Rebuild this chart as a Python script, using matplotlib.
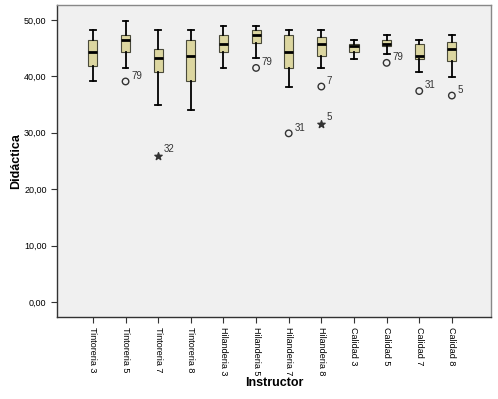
import matplotlib
matplotlib.use("Agg")
import matplotlib.pyplot as plt

plt.rcParams['font.family'] = ['Liberation Sans', 'DejaVu Sans']

categories = ["Tintoreria 3", "Tintoreria 5", "Tintoreria 7", "Tintoreria 8",
              "Hilanderia 3", "Hilanderia 5", "Hilanderia 7", "Hilanderia 8",
              "Calidad 3", "Calidad 5", "Calidad 7", "Calidad 8"]
whisker_low = [39.1, 41.5, 34.9, 34.0, 41.5, 43.2, 38.2, 41.5, 43.1, 44.0, 40.7, 39.9]
q1 =          [41.9, 44.4, 40.7, 39.1, 44.4, 46.0, 41.5, 43.6, 44.4, 45.3, 43.1, 42.7]
median =      [44.4, 46.5, 43.2, 43.6, 45.7, 47.4, 44.4, 45.7, 45.3, 45.7, 43.6, 44.9]
q3 =          [46.5, 47.4, 44.8, 46.5, 47.3, 48.2, 47.3, 46.9, 45.7, 46.5, 45.7, 46.1]
whisker_high = [48.2, 49.9, 48.2, 48.2, 49.0, 49.0, 48.2, 48.2, 46.5, 47.4, 46.5, 47.4]

# outliers: (category index, value, case label)
outlier_cat = [1, 5, 6, 7, 9, 10, 11]
outlier_val = [39.1, 41.5, 29.9, 38.2, 42.4, 37.4, 36.6]
outlier_lbl = ["79", "79", "31", "7", "79", "31", "5"]
# extremes (stars)
extreme_cat = [2, 7]
extreme_val = [25.8, 31.6]
extreme_lbl = ["32", "5"]

yticks = [0, 10, 20, 30, 40, 50]
ytick_labels = ["0,00", "10,00", "20,00", "30,00", "40,00", "50,00"]

fig = plt.figure(figsize=(4.98, 3.99), dpi=100)
ax = fig.add_axes([0.1145, 0.2055, 0.8715, 0.782])
ax.set_facecolor("#F0F0F0")

stats = []
for i in range(len(categories)):
    stats.append(dict(label=categories[i], whislo=whisker_low[i], q1=q1[i],
                      med=median[i], q3=q3[i], whishi=whisker_high[i], fliers=[]))
pos = list(range(len(categories)))
ax.bxp(stats, positions=pos, widths=0.28, patch_artist=True, showfliers=False,
       boxprops=dict(facecolor="#DCD6A0", edgecolor="#4a4a3a", linewidth=0.8),
       medianprops=dict(color="black", linewidth=2),
       whiskerprops=dict(color="black", linewidth=1.3),
       capprops=dict(color="black", linewidth=1.3),
       capwidths=0.18)

ax.scatter(outlier_cat, outlier_val, s=22, facecolors="none", edgecolors="#333333",
           linewidths=1.0, zorder=5)
ax.scatter(extreme_cat, extreme_val, s=30, marker="*", color="#333333", zorder=5)
for c, v, l in zip(outlier_cat, outlier_val, outlier_lbl):
    ax.annotate(l, (c, v), xytext=(4, 2), textcoords="offset points", fontsize=7,
                color="#333333")
for c, v, l in zip(extreme_cat, extreme_val, extreme_lbl):
    ax.annotate(l, (c, v), xytext=(4, 3), textcoords="offset points", fontsize=7,
                color="#333333")

ax.set_xlim(-1.1, 12.2)
ax.set_ylim(-2.66, 52.66)
ax.set_yticks(yticks)
ax.set_yticklabels(ytick_labels, fontsize=6.5)
ax.set_xticks(pos)
ax.set_xticklabels(categories, rotation=270, fontsize=6.5)
ax.tick_params(axis="both", length=4, width=0.8, color="#333333")
ax.set_ylabel("Didáctica", fontsize=9, fontweight="bold")
ax.yaxis.set_label_coords(-0.08, 0.5)
ax.set_xlabel("Instructor", fontsize=9, fontweight="bold", labelpad=1)
for s in ax.spines.values():
    s.set_color("#888888")
    s.set_linewidth(1.0)
ax.spines["bottom"].set_color("#333333")
ax.spines["left"].set_color("#333333")

fig.savefig("out.png", dpi=100)
